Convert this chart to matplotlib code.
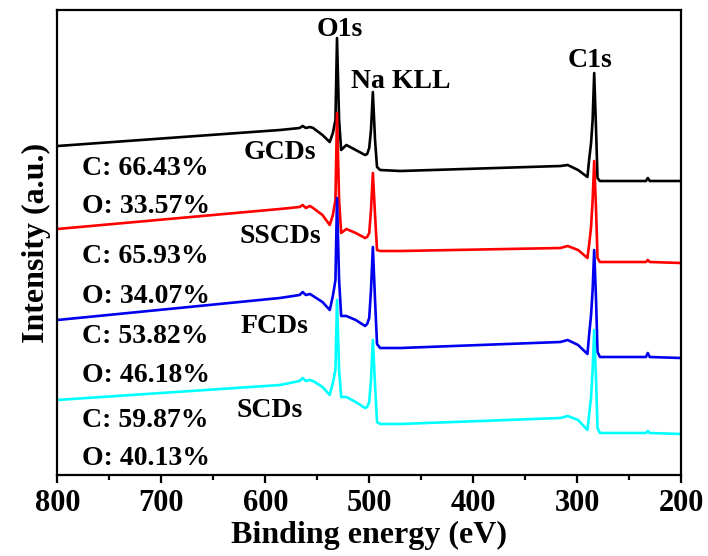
import matplotlib
matplotlib.use("Agg")
import matplotlib.pyplot as plt
from matplotlib.ticker import MultipleLocator

plt.rcParams["font.family"] = ["Liberation Serif", "DejaVu Serif"]
plt.rcParams["font.weight"] = "bold"

# binding energy grid (eV) shared by all survey spectra
energy = [800, 586, 567, 564, 561, 557, 554, 545, 538, 535, 532.5, 531, 529,
          527, 522, 513, 504, 502, 500, 498.3, 496.5, 494.4, 492.5, 489.5,
          470, 316, 309, 299, 290, 288.4, 286.5, 285, 283.5, 281.7, 280.3,
          278, 239.4, 233.7, 231.9, 230, 200]

# stacked intensities (a.u.), offsets included
gcds = [329, 345, 347, 349, 347, 348, 347, 340, 333, 342, 355, 437, 355,
        325, 330, 325, 320, 321, 327, 345, 383, 335, 308, 305,
        304, 309, 310, 305, 298, 315, 332, 355, 402, 345, 297,
        294, 294, 294, 297, 294, 294]
sscds = [246, 266, 268, 270, 267, 269, 267, 260, 250, 260, 275, 362, 275,
         242, 246, 242, 237, 238, 242, 265, 302, 260, 225, 224,
         224, 227, 229, 225, 217, 230, 248, 275, 314, 265, 217,
         213, 213, 213, 215, 213, 212]
fcds = [155, 177, 180, 183, 180, 181, 179, 173, 165, 179, 195, 277, 195,
        159, 159, 155, 149, 151, 157, 185, 228, 175, 131, 127,
        127, 133, 135, 130, 121, 140, 160, 185, 225, 175, 123,
        118, 118, 118, 122, 118, 117]
scds = [75, 90, 94, 97, 94, 95, 94, 88, 80, 92, 105, 175, 105,
        78, 78, 73, 67, 68, 73, 95, 135, 90, 53, 51,
        51, 57, 59, 55, 45, 60, 78, 105, 145, 95, 47,
        42, 42, 42, 44, 42, 41]

samples = ["GCDs", "SSCDs", "FCDs", "SCDs"]
colors = ["black", "red", "#0000ee", "cyan"]
spectra = [gcds, sscds, fcds, scds]

# sample name positions (eV, a.u.)
name_pos = [(585.8, 316), (585.8, 232), (591.6, 142), (595.4, 58)]

comp_labels = ["C: 66.43%", "O: 33.57%", "C: 65.93%", "O: 34.07%",
               "C: 53.82%", "O: 46.18%", "C: 59.87%", "O: 40.13%"]
comp_y = [300, 262, 212, 172, 132, 93, 48, 10]

peak_labels = ["O1s", "Na KLL", "C1s"]
peak_pos = [(528.6, 439), (470.0, 387), (287.9, 408)]

fig = plt.figure(figsize=(7.08, 5.56), dpi=100)
ax = fig.add_axes([0.0812, 0.1457, 0.8806, 0.8363])

for y, c in zip(spectra, colors):
    ax.plot(energy, y, color=c, lw=1.9)

for name, (x, y) in zip(samples, name_pos):
    ax.text(x, y, name, ha="center", va="baseline", fontsize=20, fontweight="bold")

for lab, y in zip(comp_labels, comp_y):
    ax.text(776.4, y, lab, ha="left", va="baseline", fontsize=20, fontweight="bold")

for lab, (x, y) in zip(peak_labels, peak_pos):
    ax.text(x, y, lab, ha="center", va="baseline", fontsize=20, fontweight="bold")

ax.set_xlim(800, 200)
ax.set_ylim(0, 465)
ax.xaxis.set_major_locator(MultipleLocator(100))
ax.xaxis.set_minor_locator(MultipleLocator(50))
ax.tick_params(axis="x", which="major", direction="out", length=6, width=1.6,
               labelsize=22, pad=4)
ax.tick_params(axis="x", which="minor", direction="out", length=3.5, width=1.6)
ax.set_yticks([])
for s in ax.spines.values():
    s.set_linewidth(1.6)

ax.set_xlabel("Binding energy (eV)", fontsize=23, fontweight="bold", labelpad=2)
ax.set_ylabel("Intensity (a.u.)", fontsize=23, fontweight="bold", labelpad=5)

fig.savefig("out.png", dpi=100)
